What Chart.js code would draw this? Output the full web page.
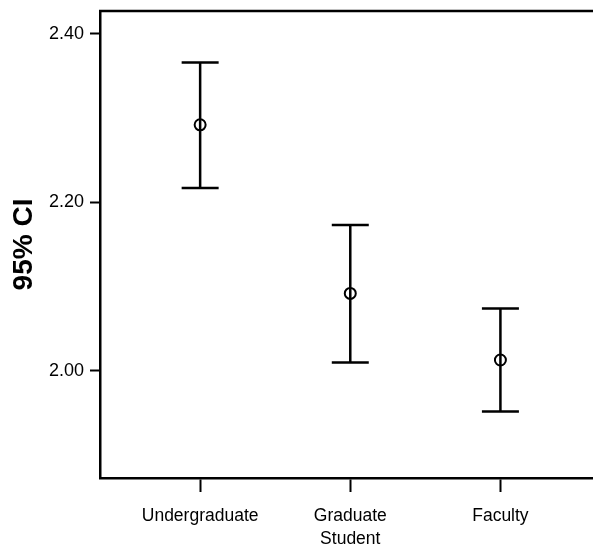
<!DOCTYPE html>
<html>
<head>
<meta charset="utf-8">
<script src="https://cdn.jsdelivr.net/npm/chart.js@4"></script>
<style>
  html, body { margin: 0; padding: 0; background: #fff; overflow: hidden; }
  /* a bit wider than the window: chart.js keeps ~8px of label margin on the
     right, and the frame in the reference runs off the right edge */
  #wrap { width: 601px; height: 546px; }
  canvas { display: block; }
</style>
</head>
<body>
<div id="wrap"><canvas id="ciChart"></canvas></div>
<script>
// groups and their 95% CI values
var groups = [['Undergraduate'], ['Graduate', 'Student'], ['Faculty']];
var groupPos = [1, 2, 3];
var means = [2.292, 2.092, 2.013];
var lower = [2.217, 2.010, 1.952];
var upper = [2.366, 2.173, 2.074];
var yTicks = [2.00, 2.20, 2.40];

var points = groupPos.map(function(x, i) {
    return { x: x, y: means[i] };
});

// draws the whiskers + caps, and the top border of the frame
var errorBarPlugin = {
    id: 'errorBars',
    beforeDatasetsDraw: function(chart) {
        var ctx = chart.ctx;
        var xs = chart.scales.x;
        var ys = chart.scales.y;
        var area = chart.chartArea;
        ctx.save();
        ctx.strokeStyle = '#000';
        ctx.lineWidth = 2.5;
        ctx.beginPath();
        ctx.moveTo(area.left - 1, area.top);
        ctx.lineTo(chart.width, area.top);
        ctx.stroke();

        var capHalf = 18.5;
        groupPos.forEach(function(pos, i) {
            var px = xs.getPixelForValue(pos);
            var top = ys.getPixelForValue(upper[i]);
            var bot = ys.getPixelForValue(lower[i]);
            ctx.beginPath();
            ctx.moveTo(px, top);
            ctx.lineTo(px, bot);
            ctx.moveTo(px - capHalf, top);
            ctx.lineTo(px + capHalf, top);
            ctx.moveTo(px - capHalf, bot);
            ctx.lineTo(px + capHalf, bot);
            ctx.stroke();
        });
        ctx.restore();
    }
};

var ctx = document.getElementById('ciChart').getContext('2d');
var ciChart = new Chart(ctx, {
    type: 'scatter',
    data: {
        datasets: [{
            data: points,
            pointStyle: 'circle',
            pointRadius: 5.5,
            pointHoverRadius: 5.5,
            borderColor: '#000',
            backgroundColor: 'rgba(0,0,0,0)',
            borderWidth: 2
        }]
    },
    options: {
        responsive: true,
        maintainAspectRatio: false,
        animation: false,
        events: [],
        layout: {
            padding: { left: 0, top: 11, right: 0, bottom: 0 }
        },
        plugins: {
            legend: { display: false },
            tooltip: { enabled: false }
        },
        scales: {
            x: {
                type: 'linear',
                min: 0.333,
                max: 3.62,
                afterBuildTicks: function(axis) {
                    axis.ticks = groupPos.map(function(v) { return { value: v }; });
                },
                afterFit: function(axis) {
                    axis.height = 68;
                    axis.paddingLeft = 0;
                    axis.paddingRight = 0;
                },
                grid: {
                    drawOnChartArea: false,
                    drawTicks: true,
                    tickLength: 14,
                    tickColor: '#000',
                    tickWidth: 2
                },
                border: { display: true, color: '#000', width: 2.5 },
                ticks: {
                    autoSkip: false,
                    maxRotation: 0,
                    padding: 13,
                    color: '#000',
                    font: { family: 'Liberation Sans', size: 17.5, lineHeight: 1.3 },
                    callback: function(value) {
                        var i = groupPos.indexOf(value);
                        return i >= 0 ? groups[i] : '';
                    }
                }
            },
            y: {
                min: 1.873,
                max: 2.427,
                afterBuildTicks: function(axis) {
                    axis.ticks = yTicks.map(function(v) { return { value: v }; });
                },
                afterFit: function(axis) {
                    axis.width = 100;
                    axis.paddingTop = 0;
                    axis.paddingBottom = 0;
                },
                title: {
                    display: true,
                    text: '95% CI',
                    color: '#000',
                    padding: { top: 7, bottom: 0 },
                    font: { family: 'Liberation Sans', size: 28, weight: 'bold' }
                },
                grid: {
                    drawOnChartArea: false,
                    drawTicks: true,
                    tickLength: 10,
                    tickColor: '#000',
                    tickWidth: 2
                },
                border: { display: true, color: '#000', width: 2.5 },
                ticks: {
                    padding: 6,
                    color: '#000',
                    font: { family: 'Liberation Sans', size: 18 },
                    callback: function(value) {
                        return value.toFixed(2);
                    }
                }
            }
        }
    },
    plugins: [errorBarPlugin]
});
</script>
</body>
</html>
